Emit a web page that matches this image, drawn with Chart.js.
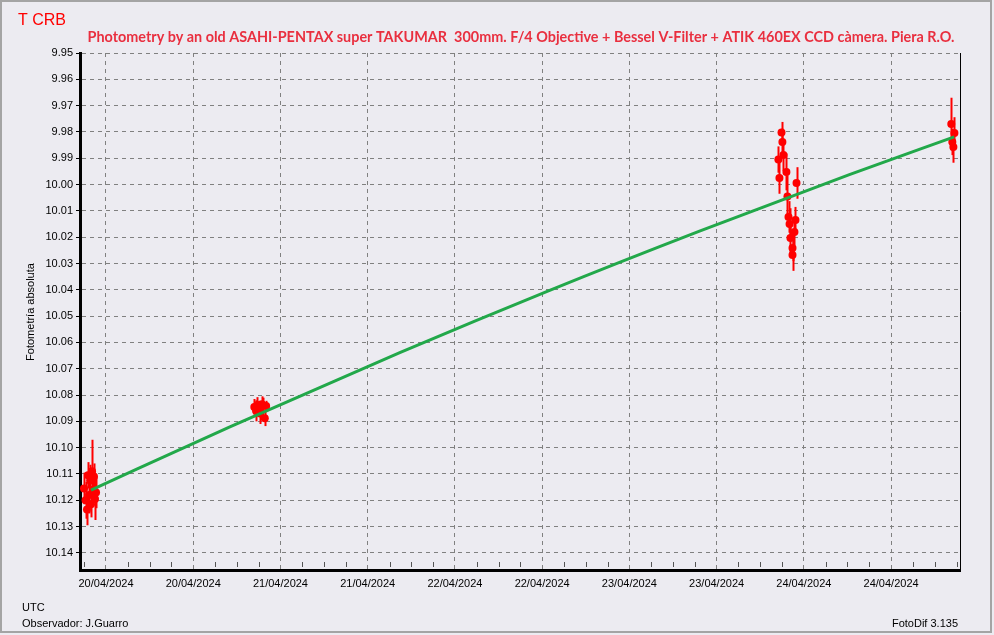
<!DOCTYPE html>
<html><head><meta charset="utf-8">
<script src="https://cdn.jsdelivr.net/npm/chart.js@4/dist/chart.umd.min.js"></script>
<style>html,body{margin:0;padding:0;background:#ecebf1}canvas{display:block}</style>
</head><body>
<canvas id="c" width="994" height="635"></canvas>
<script>
/* datos: x en días desde 20/04/2024 00:00 UTC, y magnitud V */
const obsX=[-0.126,-0.117,-0.109,-0.103,-0.097,-0.091,-0.086,-0.080,-0.074,-0.069,-0.063,-0.057,
  0.850,0.860,0.868,0.876,0.884,0.893,0.902,0.910,0.918,
  3.872,3.877,3.883,3.854,3.860,3.900,3.958,3.906,3.912,3.952,3.918,3.946,3.923,3.935,3.935,
  4.845,4.863,4.851,4.857];
const obsMag=[10.1155,10.1200,10.1235,10.1105,10.1180,10.1125,10.1215,10.1090,10.1160,10.1110,10.1195,10.1170,
  10.0845,10.0860,10.0838,10.0852,10.0870,10.0835,10.0840,10.0888,10.0842,
  9.9802,9.9838,9.9888,9.9905,9.9975,9.9952,9.9994,10.0045,10.0123,10.0135,10.0150,10.0180,10.0203,10.0241,10.0268,
  9.9770,9.9804,9.9838,9.9857];
const obsErr=[0.006,0.007,0.006,0.005,0.007,0.006,0.005,0.012,0.006,0.005,0.008,0.006,
  0.003,0.004,0.003,0.003,0.004,0.003,0.003,0.003,0.002,
  0.004,0.005,0.006,0.005,0.006,0.007,0.006,0.008,0.006,0.005,0.006,0.005,0.006,0.005,0.006,
  0.010,0.006,0.005,0.006];
/* curva de ajuste */
const trendX=[-0.086,0.710,1.684,2.543,3.402,4.261,4.862];
const trendMag=[10.1161,10.0921,10.0639,10.0402,10.0177,9.9962,9.9819];
const xTickPos=[0,0.5,1,1.5,2,2.5,3,3.5,4,4.5];
const xTickLabels=['20/04/2024','20/04/2024','21/04/2024','21/04/2024','22/04/2024','22/04/2024','23/04/2024','23/04/2024','24/04/2024','24/04/2024'];
const yTickLabels=['9.95','9.96','9.97','9.98','9.99','10.00','10.01','10.02','10.03','10.04','10.05','10.06','10.07','10.08','10.09','10.10','10.11','10.12','10.13','10.14'];

const FONT="'Liberation Sans', Arial, sans-serif";
const TITLE='Photometry by an old ASAHI-PENTAX super TAKUMAR  300mm. F/4 Objective + Bessel V-Filter + ATIK 460EX CCD càmera. Piera R.O.';

/* fondo, marco, barras de error, textos */
const deco={
  id:'deco',
  beforeDraw(c){
    const g=c.ctx;
    g.save();
    g.fillStyle='#ecebf1';g.fillRect(0,0,c.width,c.height);
    g.strokeStyle='#a4a4a4';g.lineWidth=2;g.strokeRect(1,1,990,631);
    g.restore();
  },
  beforeDatasetsDraw(c){
    const g=c.ctx,xs=c.scales.x,ys=c.scales.y;
    g.save();
    g.strokeStyle='#ff0000';g.lineWidth=2;
    obsX.forEach((x,i)=>{
      const px=Math.round(xs.getPixelForValue(x))+0.5;
      g.beginPath();
      g.moveTo(px,ys.getPixelForValue(obsMag[i]-obsErr[i]));
      g.lineTo(px,ys.getPixelForValue(obsMag[i]+obsErr[i]));
      g.stroke();
    });
    g.restore();
  },
  afterDraw(c){
    const g=c.ctx,a=c.chartArea,xs=c.scales.x;
    g.save();
    // borde derecho
    g.strokeStyle='#000';g.lineWidth=1;
    g.beginPath();g.moveTo(a.right+0.5,a.top);g.lineTo(a.right+0.5,a.bottom);g.stroke();
    // ticks menores
    g.strokeStyle='#555';
    for(let v=-0.125;v<=xs.max;v+=0.125){
      if(Math.abs(v*2-Math.round(v*2))<1e-6)continue;
      const px=Math.round(xs.getPixelForValue(v))+0.5;
      g.beginPath();g.moveTo(px,a.bottom-8);g.lineTo(px,a.bottom-3);g.stroke();
    }
    // textos
    g.fillStyle='#ff0000';g.font='16px '+FONT;g.textAlign='left';g.textBaseline='alphabetic';
    g.fillText('T CRB',18,25);
    g.fillStyle='#e92f3f';g.font="bold 15px Lato, 'Open Sans', sans-serif";
    const w=g.measureText(TITLE).width,sx=867/w;
    g.save();g.translate(521,42);g.scale(sx,1);g.textAlign='center';g.fillText(TITLE,0,0);g.restore();
    g.fillStyle='#000';g.font='11px '+FONT;
    g.fillText('UTC',22,611);
    g.fillText('Observador: J.Guarro',22,627);
    g.textAlign='right';g.fillText('FotoDif 3.135',958,627);
    g.save();g.translate(34,312);g.rotate(-Math.PI/2);g.textAlign='center';g.fillText('Fotometría absoluta',0,0);g.restore();
    g.restore();
  }
};

new Chart(document.getElementById('c'),{
  type:'scatter',
  data:{datasets:[
    {type:'line',data:trendX.map((x,i)=>({x,y:trendMag[i]})),borderColor:'#22a84a',borderWidth:3,pointRadius:0,cubicInterpolationMode:'monotone',order:0},
    {data:obsX.map((x,i)=>({x,y:obsMag[i]})),backgroundColor:'#ff0000',borderWidth:0,pointRadius:4,order:1}
  ]},
  options:{
    responsive:false,devicePixelRatio:1,animation:false,
    layout:{padding:{left:0,top:53,right:34,bottom:0}},
    plugins:{legend:{display:false},tooltip:{enabled:false}},
    scales:{
      x:{
        type:'linear',min:-0.149,max:4.895,
        afterBuildTicks:s=>{s.ticks=xTickPos.map(v=>({value:v}));},
        afterFit:s=>{s.height=65;},
        ticks:{callback:(v,i)=>xTickLabels[i],color:'#000',font:{family:FONT,size:11},padding:7,maxRotation:0,autoSkip:false},
        grid:{color:'#808080',lineWidth:1,drawTicks:false},
        border:{display:true,color:'#000',width:3,dash:[4,4]}
      },
      y:{
        type:'linear',reverse:true,min:9.95,max:10.1465,
        afterBuildTicks:s=>{s.ticks=yTickLabels.map(t=>({value:parseFloat(t)}));},
        afterFit:s=>{s.width=80;},
        ticks:{callback:(v,i)=>yTickLabels[i],color:'#000',font:{family:FONT,size:11},padding:3,autoSkip:false},
        grid:{color:'#808080',lineWidth:1,drawTicks:true,tickLength:4,tickColor:'#000',tickBorderDash:[]},
        border:{display:true,color:'#000',width:3,dash:[4,4]}
      }
    }
  },
  plugins:[deco]
});
</script>
</body></html>
